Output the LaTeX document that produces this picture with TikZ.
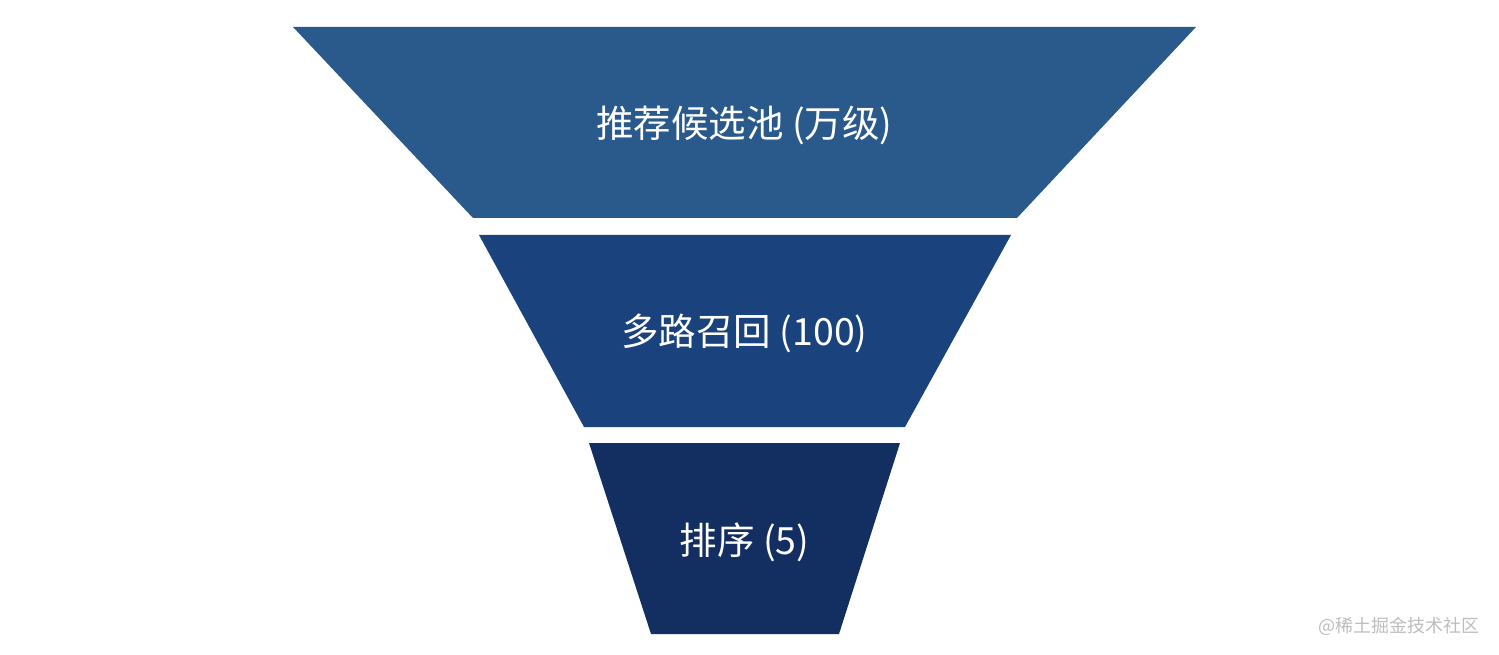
\documentclass[tikz,border=0pt]{standalone}
\usepackage{fontspec}
\setmainfont{Noto Sans CJK SC}
\usepackage{xcolor}
\usepackage{tikz}
\usetikzlibrary{positioning,calc}
\definecolor{poolblue}{HTML}{2A598C}
\definecolor{recallblue}{HTML}{1A427D}
\definecolor{rankblue}{HTML}{132F62}
\definecolor{markgray}{HTML}{BDBDBD}
\tikzstyle{layer} = [draw=none]
\tikzstyle{label} = [text=white, font=\fontsize{37.5}{42}\selectfont, inner sep=0pt]

\begin{document}
\begin{tikzpicture}[x=1pt,y=-1pt]
\useasboundingbox (0,0) rectangle (1499,655);
\fill[layer, poolblue] (293,27) -- (1196,27) -- (1017,218) -- (473,218) -- cycle;
\node[label] (pool) at (744.5,125) {推荐候选池 (万级)};
\fill[layer, recallblue] (479,235) -- (1011,235) -- (905,427) -- (584,427) -- cycle;
\node[label] (recall) at (744.5,333) {多路召回 (100)};
\fill[layer, rankblue] (589,443) -- (900,443) -- (839,634) -- (651,634) -- cycle;
\node[label] (rank) at (744.5,542) {排序 (5)};
\node[text=markgray, font=\fontsize{18}{20}\selectfont, inner sep=0pt] (mark) at (1399,626) {@稀土掘金技术社区};
\end{tikzpicture}
\end{document}
